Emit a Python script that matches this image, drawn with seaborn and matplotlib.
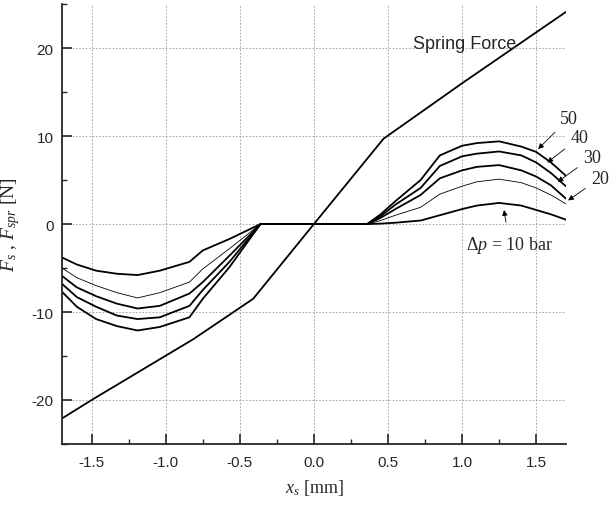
import numpy as np
import pandas as pd
import matplotlib
matplotlib.use('Agg')
import matplotlib.pyplot as plt
import seaborn as sns

# 弹簧力 (piecewise linear)
spring_x = [-1.7, -1.5, -0.815, -0.41, 0.0, 0.47, 1.0, 1.7]
spring_y = [-22.1, -20.0, -13.1, -8.5, 0.0, 9.7, 16.0, 24.1]

# 液动力 F_s, 左半部分
left_x = [-1.7, -1.6, -1.47, -1.33, -1.19, -1.04, -0.84, -0.75, -0.57, -0.36]
fs_left = {
    10: [-3.8, -4.6, -5.3, -5.65, -5.8, -5.3, -4.3, -3.0, -1.7, 0.0],
    20: [-5.0, -6.1, -7.0, -7.8, -8.4, -7.8, -6.6, -5.1, -2.8, 0.0],
    30: [-5.9, -7.2, -8.2, -9.05, -9.6, -9.3, -7.9, -6.6, -3.6, 0.0],
    40: [-6.8, -8.3, -9.4, -10.4, -10.8, -10.6, -9.3, -7.5, -4.3, 0.0],
    50: [-7.7, -9.4, -10.8, -11.6, -12.1, -11.7, -10.6, -8.5, -4.9, 0.0],
}

# 右半部分
right_x = [0.36, 0.45, 0.55, 0.72, 0.85, 1.0, 1.1, 1.25, 1.4, 1.5, 1.6, 1.7]
fs_right = {
    10: [0.0, 0.05, 0.15, 0.4, 1.0, 1.7, 2.1, 2.4, 2.1, 1.6, 1.1, 0.5],
    20: [0.0, 0.4, 1.0, 1.9, 3.4, 4.3, 4.8, 5.1, 4.7, 4.1, 3.3, 2.3],
    30: [0.0, 0.7, 1.7, 3.3, 5.2, 6.1, 6.5, 6.7, 6.1, 5.4, 4.4, 2.9],
    40: [0.0, 0.9, 2.2, 4.1, 6.6, 7.7, 8.0, 8.25, 7.8, 7.0, 5.8, 4.3],
    50: [0.0, 1.1, 2.6, 5.0, 7.8, 8.9, 9.2, 9.4, 8.8, 8.2, 7.0, 5.5],
}
dp_levels = [10, 20, 30, 40, 50]
line_widths = {10: 1.3, 20: 0.6, 30: 1.3, 40: 1.3, 50: 1.3}

sns.set_style("ticks")
plt.rcParams['font.family'] = ['Liberation Sans', 'DejaVu Sans']
plt.rcParams['mathtext.fontset'] = 'custom'
plt.rcParams['mathtext.rm'] = 'Liberation Serif'
plt.rcParams['mathtext.it'] = 'Liberation Serif:italic'

fig = plt.figure(figsize=(6.11, 5.10), dpi=100)
ax = fig.add_axes([0.1015, 0.1275, 0.8245, 0.8625])

# 数据整理
spring_df = pd.DataFrame({'x': spring_x, 'F': spring_y})
sns.lineplot(data=spring_df, x='x', y='F', ax=ax, color='black', lw=1.3,
             estimator=None, sort=False)

for dp in dp_levels:
    xs = left_x + [0.0] + right_x
    ys = fs_left[dp] + [0.0] + fs_right[dp]
    df = pd.DataFrame({'x': xs, 'F': ys})
    sns.lineplot(data=df, x='x', y='F', ax=ax, color='black',
                 lw=line_widths[dp], estimator=None, sort=False)

ax.set_xlim(-1.7, 1.7)
ax.set_ylim(-25, 25)
ax.set_xticks([-1.5, -1.0, -0.5, 0.0, 0.5, 1.0, 1.5])
ax.set_xticklabels(['-1.5', '-1.0', '-0.5', '0.0', '0.5', '1.0', '1.5'])
ax.set_xticks(np.arange(-1.5, 1.6, 0.25), minor=True)
ax.set_yticks([-20, -10, 0, 10, 20])
ax.set_yticklabels(['-20', '-10', '0', '10', '20'])
ax.set_yticks([-25, -15, -5, 5, 15, 25], minor=True)
ax.tick_params(which='major', direction='in', length=7, width=1.2,
               labelsize=11, pad=8)
ax.tick_params(which='minor', direction='in', length=3.5, width=1.0)
ax.tick_params(axis='y', pad=6)

ax.grid(True, which='major', linestyle=(0, (2, 2)), color='#999999', lw=0.6)
sns.despine(ax=ax)
ax.spines['left'].set_linewidth(1.3)
ax.spines['bottom'].set_linewidth(1.3)

ax.set_xlabel(r'$x_s$ [mm]', fontsize=13, fontfamily='Liberation Serif')
ax.set_ylabel(r'$F_s$ , $F_{spr}$ [N]', fontsize=14, fontfamily='Liberation Serif')
ax.xaxis.set_label_coords(0.5, -0.075)
ax.yaxis.set_label_coords(-0.08, 0.5)

ax.text(0.67, 20.5, 'Spring Force', fontsize=13, va='center', ha='left')

arrow = dict(arrowstyle='-|>', color='black', lw=0.6, mutation_scale=8)
labels = [('50', (1.72, 12.0), (1.50, 8.3)),
          ('40', (1.79, 9.8), (1.56, 6.8)),
          ('30', (1.875, 7.6), (1.63, 4.6)),
          ('20', (1.93, 5.2), (1.70, 2.5))]
for txt, xytext, xy in labels:
    ax.annotate(txt, xy=xy, xytext=xytext, fontsize=13,
                fontfamily='Liberation Serif', ha='center', va='center',
                arrowprops=arrow, annotation_clip=False)

ax.annotate(r'$\Delta p$ = 10 bar', xy=(1.28, 1.9), xytext=(1.32, -2.3),
            fontsize=13, fontfamily='Liberation Serif', ha='center', va='center',
            arrowprops=dict(arrowstyle='-|>', color='black', lw=0.6,
                            mutation_scale=8, shrinkA=6))

plt.savefig('out.png', dpi=100)
